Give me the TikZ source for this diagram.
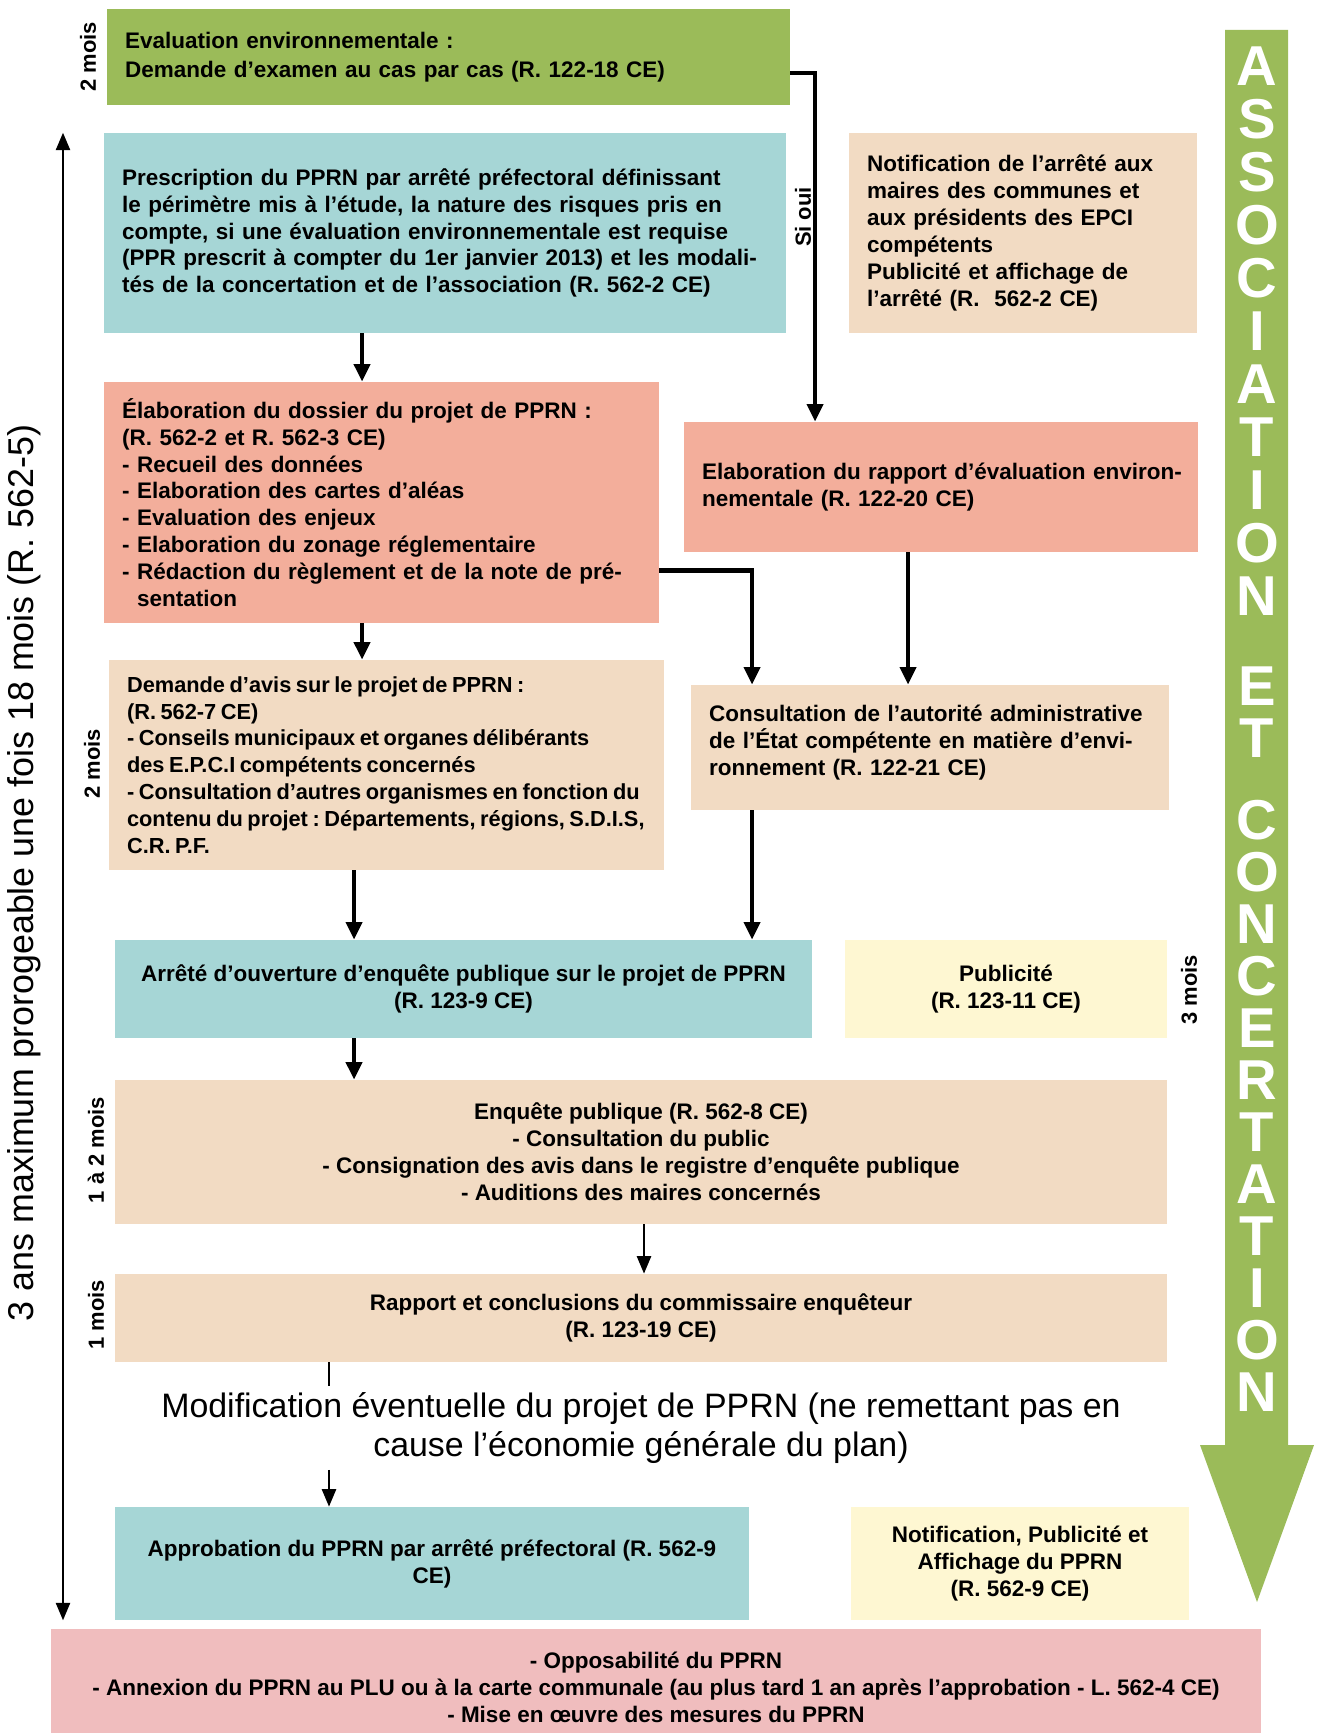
\documentclass[tikz,border=0pt]{standalone}
\usepackage{fontspec}
\setmainfont{Liberation Sans}
\usetikzlibrary{arrows.meta,positioning}
\frenchspacing
\newcommand\tightspaces{\spaceskip=0.75\fontdimen2\font\relax}

\definecolor{evalgreen}{HTML}{9BBB59}
\definecolor{prefblue}{HTML}{A6D6D6}
\definecolor{dossred}{HTML}{F3AE9B}
\definecolor{avispeach}{HTML}{F2DBC3}
\definecolor{publiyellow}{HTML}{FEF7D2}
\definecolor{finpink}{HTML}{F0BDBE}

\tikzset{
  stage/.style={rectangle, inner xsep=0.36cm, inner ysep=0pt, align=left,
    font=\fontsize{12.8}{15.3}\selectfont\bfseries},
  cstage/.style={stage, align=center},
  timing/.style={rotate=90, inner sep=0pt, font=\fontsize{12.5}{14}\selectfont\bfseries},
  spanlabel/.style={rotate=90, inner sep=0pt, font=\fontsize{20.4}{24}\selectfont},
  bigletter/.style={text=white, inner sep=0pt, font=\fontsize{32}{32}\selectfont\bfseries},
  arr/.style={line width=2.4pt, -{Triangle[width=9pt,length=10pt]}},
  thinarr/.style={line width=1.4pt, -{Triangle[width=8pt,length=10pt]}},
  spanarr/.style={line width=1.4pt, {Triangle[width=8pt,length=10pt]}-{Triangle[width=8pt,length=10pt]}},
}

\begin{document}
\begin{tikzpicture}[x=0.02cm, y=-0.02cm]
\useasboundingbox (0,0) rectangle (1317,1733);

% columns for the connectors
\coordinate (c0) at (63,0);
\coordinate (c1) at (362,0);
\coordinate (c2) at (354,0);
\coordinate (c3) at (752,0);
\coordinate (c4) at (908,0);
\coordinate (c5) at (815,0);
\coordinate (c6) at (644,0);
\coordinate (c7) at (329,0);

% big green arrow on the right
\fill[evalgreen] (1225,30) -- (1288,30) -- (1288,1445) -- (1314,1445) -- (1257,1602)
  -- (1200,1445) -- (1225,1445) -- cycle;
\foreach \l [count=\i from 0] in {A,S,S,O,C,I,A,T,I,O,N}
  \node (asso\i) [bigletter] at (1257,{66+53*\i}) {\l} ;
\node (et0) [bigletter] at (1257,686) {E} ;
\node (et1) [bigletter] at (1257,738) {T} ;
\foreach \l [count=\i from 0] in {C,O,N,C,E,R,T,A,T,I,O,N}
  \node (conc\i) [bigletter] at (1257,{820+52*\i}) {\l} ;

% boxes
\node (evalenv) [stage, fill=evalgreen, minimum width=13.66cm, minimum height=1.92cm, text width=12.94cm,
  font=\fontsize{12.8}{16.3}\selectfont\bfseries] at (448.5,57)
  {Evaluation environnementale :\\Demande d'examen au cas par cas (R. 122-18 CE)} ;
\node (presc) [stage, fill=prefblue, minimum width=13.64cm, minimum height=4cm, text width=12.92cm] at (445,233)
  {Prescription du PPRN par arrêté préfectoral définissant\\le périmètre mis à l'étude, la nature des risques pris en\\compte, si une évaluation environnementale est requise\\\mbox{(PPR prescrit à compter du 1er janvier 2013) et les modali-}\\tés de la concertation et de l'association (R. 562-2 CE)} ;
\node (notif) [stage, fill=avispeach, minimum width=6.96cm, minimum height=4cm, text width=6.24cm] at (1023,233)
  {Notification de l'arrêté aux\\maires des communes et\\aux présidents des EPCI\\compétents\\Publicité et affichage de\\l'arrêté (R.\ \ 562-2 CE)} ;
\node (elab) [stage, fill=dossred, minimum width=11.1cm, minimum height=4.82cm, text width=10.38cm] at (381.5,502.5)
  {Élaboration du dossier du projet de PPRN :\\(R. 562-2 et R. 562-3 CE)\\- Recueil des données\\- Elaboration des cartes d'aléas\\- Evaluation des enjeux\\- Elaboration du zonage réglementaire\\\mbox{- Rédaction du règlement et de la note de pré-}\\\phantom{- }sentation} ;
\node (envrep) [stage, fill=dossred, minimum width=10.28cm, minimum height=2.6cm, text width=9.56cm] at (941,487)
  {\mbox{Elaboration du rapport d'évaluation environ-}\\nementale (R. 122-20 CE)} ;
\node (avis) [stage, fill=avispeach, minimum width=11.1cm, minimum height=4.2cm, text width=10.38cm,
  font=\fontsize{12.4}{15.3}\selectfont\bfseries] at (386.5,765)
  {\tightspaces Demande d'avis sur le projet de PPRN :\\(R. 562-7 CE)\\\mbox{- Conseils municipaux et organes délibérants}\\des E.P.C.I compétents concernés\\\mbox{- Consultation d'autres organismes en fonction du}\\\mbox{contenu du projet : Départements, régions, S.D.I.S,}\\C.R. P.F.} ;
\node (consult) [stage, fill=avispeach, minimum width=9.56cm, minimum height=2.5cm, text width=8.84cm] at (930,747.5)
  {Consultation de l'autorité administrative\\de l'État compétente en matière d'envi-\\ronnement (R. 122-21 CE)\\[-7pt]\mbox{}} ;
\node (arrete) [cstage, fill=prefblue, minimum width=13.94cm, minimum height=1.96cm] at (463.5,989)
  {Arrêté d'ouverture d'enquête publique sur le projet de PPRN\\(R. 123-9 CE)} ;
\node (publi) [cstage, fill=publiyellow, minimum width=6.44cm, minimum height=1.96cm] at (1006,989)
  {Publicité\\(R. 123-11 CE)} ;
\node (enquete) [cstage, fill=avispeach, minimum width=21.04cm, minimum height=2.88cm] at (641,1152)
  {Enquête publique (R. 562-8 CE)\\- Consultation du public\\- Consignation des avis dans le registre d'enquête publique\\- Auditions des maires concernés} ;
\node (commiss) [cstage, fill=avispeach, minimum width=21.04cm, minimum height=1.76cm] at (641,1318)
  {Rapport et conclusions du commissaire enquêteur\\(R. 123-19 CE)} ;
\node (modif) [align=center, inner sep=0pt, minimum height=1.66cm, font=\fontsize{19.3}{22.7}\selectfont] at (641,1428)
  {Modification éventuelle du projet de PPRN (ne remettant pas en\\cause l'économie générale du plan)} ;
\node (approb) [cstage, fill=prefblue, minimum width=12.68cm, minimum height=2.26cm] at (432,1563.5)
  {Approbation du PPRN par arrêté préfectoral (R. 562-9\\CE)} ;
\node (notifpub) [cstage, fill=publiyellow, minimum width=6.76cm, minimum height=2.26cm] at (1020,1563.5)
  {Notification, Publicité et\\Affichage du PPRN\\(R. 562-9 CE)} ;
\node (oppos) [cstage, fill=finpink, minimum width=24.2cm, minimum height=2.32cm] at (656,1687)
  {- Opposabilité du PPRN\\- Annexion du PPRN au PLU ou à la carte communale (au plus tard 1 an après l'approbation - L. 562-4 CE)\\- Mise en œuvre des mesures du PPRN} ;

% durations
\node (t1) [timing] at (88,57) {2 mois} ;
\node (t2) [timing] at (92,764) {2 mois} ;
\node (t3) [timing] at (1189,990) {3 mois} ;
\node (t4) [timing] at (96,1150) {1 à 2 mois} ;
\node (t5) [timing] at (96,1315) {1 mois} ;
\node (sioui) [timing] at (803,217) {Si oui} ;
\node (span) [spanlabel] at (24,873) {3 ans maximum prorogeable une fois 18 mois (R. 562-5)} ;

% connectors
\draw[arr] ([yshift=-0.32cm]evalenv.east) -| (c5 |- envrep.north);
\draw[arr] (c1 |- presc.south) -- (c1 |- elab.north);
\draw[arr] (c1 |- elab.south) -- (c1 |- avis.north);
\draw[arr] ([yshift=-1.36cm]elab.east) -| (c3 |- consult.north);
\draw[arr] (c4 |- envrep.south) -- (c4 |- consult.north);
\draw[arr] (c2 |- avis.south) -- (c2 |- arrete.north);
\draw[arr] (c3 |- consult.south) -- (c3 |- arrete.north);
\draw[arr] (c2 |- arrete.south) -- (c2 |- enquete.north);
\draw[thinarr] (c6 |- enquete.south) -- (c6 |- commiss.north);
\draw[line width=1.4pt] (c7 |- commiss.south) -- (c7 |- modif.north);
\draw[thinarr] (c7 |- modif.south) -- (c7 |- approb.north);
\draw[spanarr] (c0 |- presc.north) -- (c0 |- approb.south);

\end{tikzpicture}
\end{document}
